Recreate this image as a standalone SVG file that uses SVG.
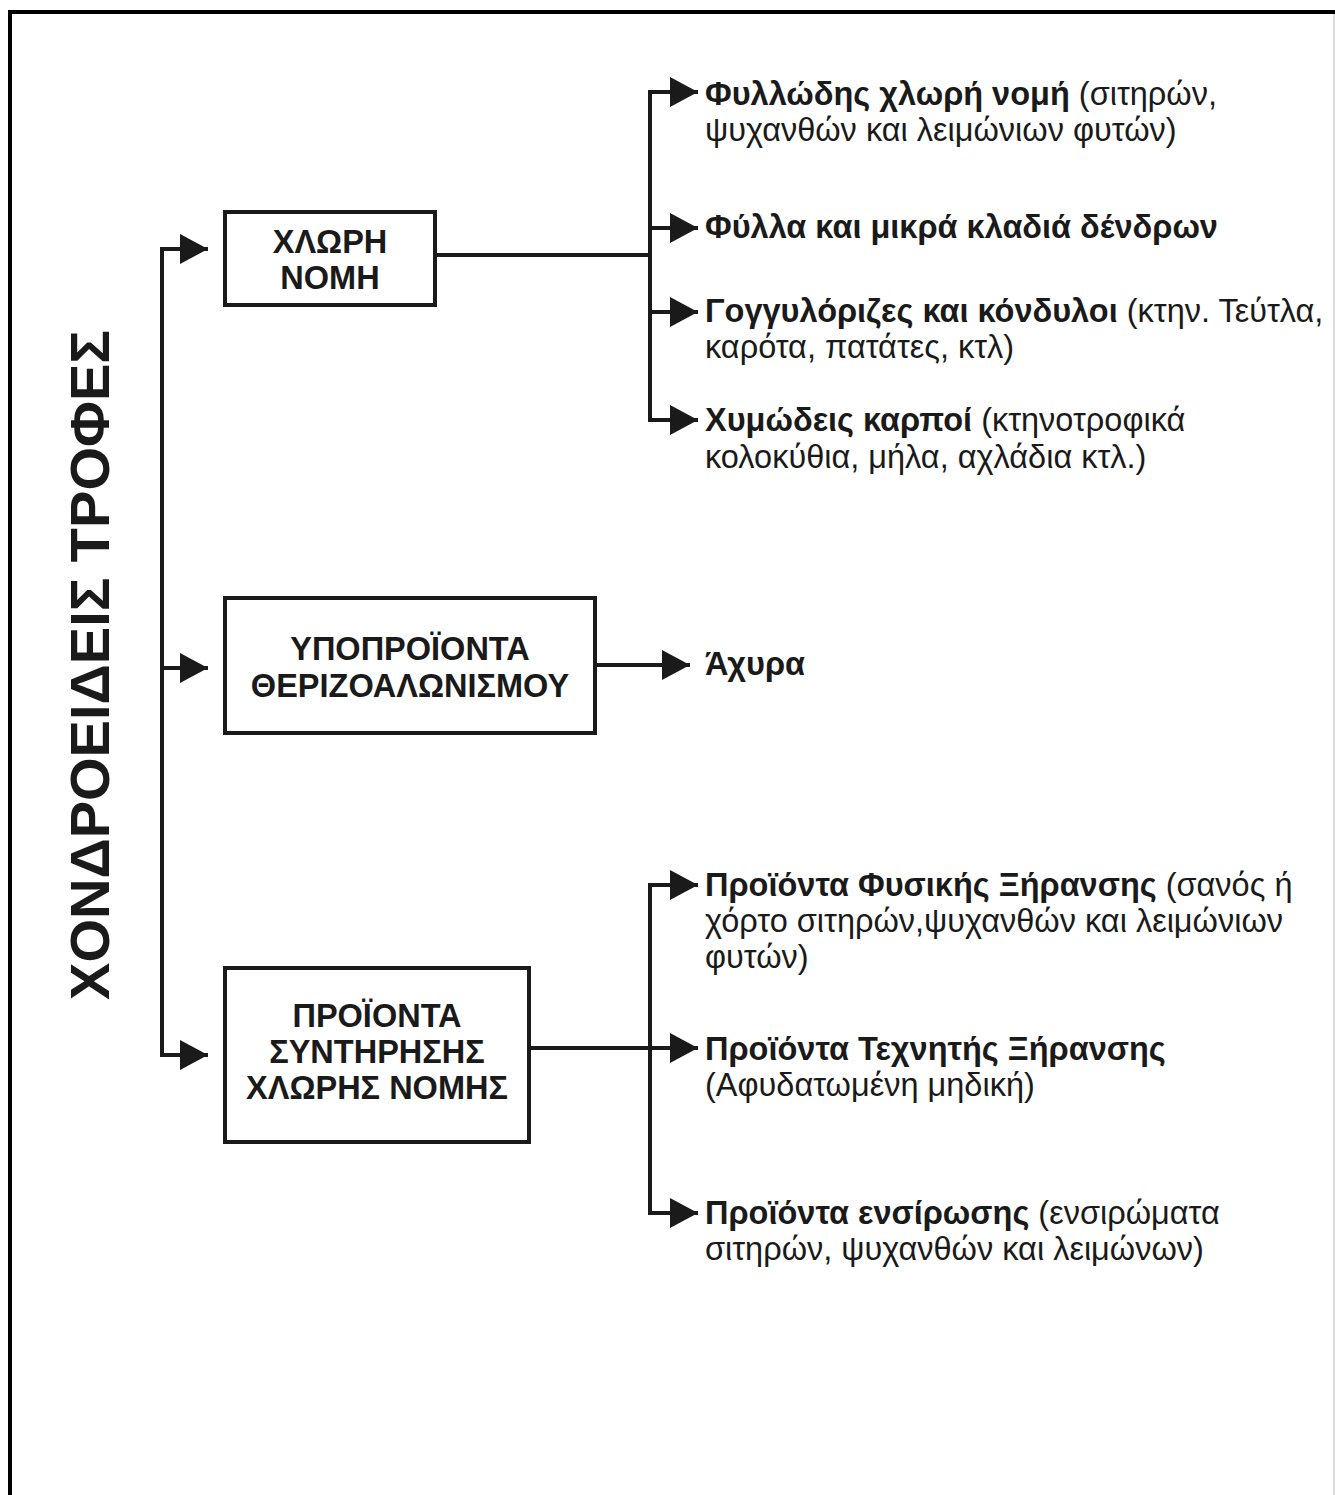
<svg xmlns="http://www.w3.org/2000/svg" width="1335" height="1495" viewBox="0 0 1335 1495">
<defs>
<style>
.frame{fill:none;stroke:#000;stroke-width:4}
.box{fill:#fff;stroke:#1a1a1a;stroke-width:4}
.ln{fill:none;stroke:#1a1a1a;stroke-width:4}
.bt{font-family:"Liberation Sans",Arial,sans-serif;font-weight:bold;font-size:32.5px;fill:#1a1a1a;text-anchor:middle}
.it{font-family:"Liberation Sans",Arial,sans-serif;font-size:32.5px;fill:#1a1a1a}
.b{font-weight:bold}
.title{font-family:"Liberation Sans",Arial,sans-serif;font-weight:bold;font-size:56px;fill:#1a1a1a;text-anchor:middle}
</style>
<marker id="ah" markerUnits="userSpaceOnUse" markerWidth="30" markerHeight="32" refX="28" refY="16" orient="auto">
<path d="M0,1 L28,16 L0,31 Z" fill="#1a1a1a"/>
</marker>
</defs>
<rect width="1335" height="1495" fill="#fff"/>
<path class="frame" d="M10,1495 V12 H1335"/>
<line x1="1334" y1="14" x2="1334" y2="1495" stroke="#d0d0d0" stroke-width="1.5"/>

<g id="title">
<text class="title" transform="translate(109,665) rotate(-90)">ΧΟΝΔΡΟΕΙΔΕΙΣ ΤΡΟΦΕΣ</text>
</g>

<g id="connectors">
<path class="ln" d="M208,249 H162 V1055 H208"/>
<path class="ln" d="M162,249 H208" marker-end="url(#ah)"/>
<path class="ln" d="M162,668 H208" marker-end="url(#ah)"/>
<path class="ln" d="M162,1055 H208" marker-end="url(#ah)"/>
<path class="ln" d="M435,255 H650"/>
<path class="ln" d="M650,92 V420"/>
<path class="ln" d="M648,92 H698" marker-end="url(#ah)"/>
<path class="ln" d="M650,228 H698" marker-end="url(#ah)"/>
<path class="ln" d="M650,312 H698" marker-end="url(#ah)"/>
<path class="ln" d="M648,420 H698" marker-end="url(#ah)"/>
<path class="ln" d="M595,665 H690" marker-end="url(#ah)"/>
<path class="ln" d="M650,885 V1213"/>
<path class="ln" d="M529,1048 H698" marker-end="url(#ah)"/>
<path class="ln" d="M648,885 H698" marker-end="url(#ah)"/>
<path class="ln" d="M648,1213 H698" marker-end="url(#ah)"/>
</g>

<g id="node-xlori-nomi">
<rect class="box" x="225" y="212" width="210" height="93"/>
<text class="bt" x="330" y="253">ΧΛΩΡΗ</text>
<text class="bt" x="330" y="289">ΝΟΜΗ</text>
</g>

<g id="node-ypoproionta">
<rect class="box" x="225" y="598" width="370" height="135"/>
<text class="bt" x="410" y="660">ΥΠΟΠΡΟΪΟΝΤΑ</text>
<text class="bt" x="410" y="697">ΘΕΡΙΖΟΑΛΩΝΙΣΜΟΥ</text>
</g>

<g id="node-proionta-syntirisis">
<rect class="box" x="225" y="968" width="304" height="174"/>
<text class="bt" x="377" y="1027">ΠΡΟΪΟΝΤΑ</text>
<text class="bt" x="377" y="1063">ΣΥΝΤΗΡΗΣΗΣ</text>
<text class="bt" x="377" y="1099">ΧΛΩΡΗΣ ΝΟΜΗΣ</text>
</g>

<g id="item-fyllodis">
<text class="it" x="705" y="105"><tspan class="b">Φυλλώδης χλωρή νομή</tspan> (σιτηρών,</text>
<text class="it" x="705" y="141">ψυχανθών και λειμώνιων φυτών)</text>
</g>
<g id="item-fylla">
<text class="it b" x="705" y="238">Φύλλα και μικρά κλαδιά δένδρων</text>
</g>
<g id="item-goggyloriz">
<text class="it" x="705" y="322"><tspan class="b">Γογγυλόριζες και κόνδυλοι</tspan> (κτην. Τεύτλα,</text>
<text class="it" x="705" y="358">καρότα, πατάτες, κτλ)</text>
</g>
<g id="item-xymodeis">
<text class="it" x="705" y="431"><tspan class="b">Χυμώδεις καρποί</tspan> (κτηνοτροφικά</text>
<text class="it" x="705" y="468">κολοκύθια, μήλα, αχλάδια κτλ.)</text>
</g>
<g id="item-axyra">
<text class="it b" x="705" y="675">Άχυρα</text>
</g>
<g id="item-fysikis">
<text class="it" x="705" y="896"><tspan class="b">Προϊόντα Φυσικής Ξήρανσης</tspan> (σανός ή</text>
<text class="it" x="705" y="932">χόρτο σιτηρών,ψυχανθών και λειμώνιων</text>
<text class="it" x="705" y="968">φυτών)</text>
</g>
<g id="item-texnitis">
<text class="it b" x="705" y="1060">Προϊόντα Τεχνητής Ξήρανσης</text>
<text class="it" x="705" y="1096">(Αφυδατωμένη μηδική)</text>
</g>
<g id="item-ensirosis">
<text class="it" x="705" y="1224"><tspan class="b">Προϊόντα ενσίρωσης</tspan> (ενσιρώματα</text>
<text class="it" x="705" y="1260">σιτηρών, ψυχανθών και λειμώνων)</text>
</g>
</svg>
